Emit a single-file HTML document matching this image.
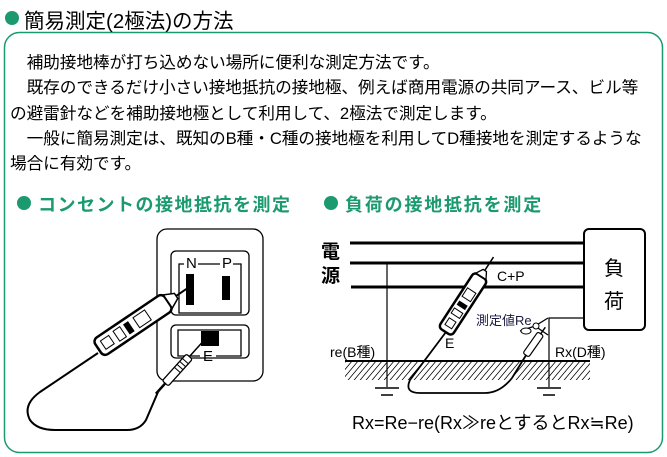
<!DOCTYPE html>
<html><head><meta charset="utf-8"><style>
body{margin:0;background:#fff;width:667px;height:457px;overflow:hidden;position:relative;font-family:"Liberation Sans","Noto Sans CJK JP",sans-serif;}
.t{position:absolute;white-space:nowrap;}
</style></head><body>
<svg width="667" height="457" style="position:absolute;left:0;top:0">
<defs>
<pattern id="h" width="6" height="20" patternUnits="userSpaceOnUse" patternTransform="skewX(-40)">
<line x1="1" y1="0" x2="1" y2="20" stroke="#000" stroke-width="1"/>
</pattern>
</defs>
<circle cx="12" cy="18" r="7" fill="#1a9a6e"/>
<rect x="4.5" y="32.5" width="658" height="420" rx="15" fill="none" stroke="#1a9a6e" stroke-width="1.5"/>
<circle cx="24" cy="203" r="7" fill="#1a9a6e"/>
<circle cx="331" cy="203" r="7" fill="#1a9a6e"/>

<rect x="157" y="229" width="106" height="152" rx="10" fill="none" stroke="#000" stroke-width="1.3"/>
<rect x="171" y="251" width="78" height="64" rx="5" fill="none" stroke="#000" stroke-width="1.3"/>
<path d="M184 264 H179 V313 H241 V264 H233 M198 264 H220" fill="none" stroke="#000" stroke-width="1.3"/>
<rect x="186" y="274" width="8" height="31" fill="#000"/>
<rect x="222" y="276" width="8" height="24" fill="#000"/>
<rect x="171" y="325" width="78" height="33" rx="5" fill="none" stroke="#000" stroke-width="1.3"/>
<path d="M200 356 H178 V330 H241 V356 H216" fill="none" stroke="#000" stroke-width="1.3"/>
<rect x="201" y="331" width="18" height="15" fill="#000"/>
<path d="M98 353 L40 392 Q22 405 30 420 Q37 430 55 430 L127 430 Q140 430 146 420 L158 392" fill="none" stroke="#000" stroke-width="2"/>
<g transform="translate(180,367) rotate(-48)">
<rect x="-22" y="-4" width="36" height="8" rx="2" fill="#fff" stroke="#000" stroke-width="1.3"/>
<path d="M-4 -4 V4 M0 -4 V4 M4 -4 V4 M8 -4 V4" stroke="#000"/>
<line x1="14" y1="0" x2="36" y2="0" stroke="#000" stroke-width="1.5"/>
<line x1="-22" y1="0" x2="-36" y2="0" stroke="#000" stroke-width="2.5"/>
</g>
<g transform="translate(133,325) rotate(-34)">
<rect x="-42" y="-10" width="84" height="20" rx="5" fill="#fff" stroke="#000" stroke-width="2.5"/>
<rect x="-36" y="-5" width="10" height="10" fill="none" stroke="#000"/>
<rect x="-20" y="-6" width="8" height="12" fill="none" stroke="#000"/>
<rect x="-8" y="-6" width="6" height="12" fill="#000"/>
<rect x="4" y="-6" width="14" height="12" fill="none" stroke="#000"/>
<path d="M42 -8 L52 -3 V3 L42 8 Z" fill="#fff" stroke="#000" stroke-width="1.5"/>
<line x1="52" y1="0" x2="70" y2="0" stroke="#000" stroke-width="2"/>
</g>

<line x1="350" y1="243" x2="584" y2="243" stroke="#000" stroke-width="3"/>
<line x1="350" y1="263" x2="584" y2="263" stroke="#000" stroke-width="3"/>
<line x1="351" y1="287" x2="584" y2="287" stroke="#000" stroke-width="3"/>
<rect x="584" y="229" width="61" height="101" rx="5" fill="#fff" stroke="#000" stroke-width="2"/>
<rect x="345" y="362" width="245" height="18" fill="url(#h)"/>
<line x1="345" y1="361" x2="590" y2="361" stroke="#000" stroke-width="2"/>
<line x1="387" y1="263" x2="387" y2="387" stroke="#000" stroke-width="1.2"/>
<path d="M549 387 V318 H584" fill="none" stroke="#000" stroke-width="1.2"/>
<path d="M375 388 H399 M381 395 H393" stroke="#000" stroke-width="1.5"/>
<path d="M537 388 H561 M543 395 H555" stroke="#000" stroke-width="1.5"/>
<path d="M446 332 L410 380 Q404 393 420 393 L485 393 Q500 393 512 378 L528 352" fill="none" stroke="#000" stroke-width="1.8"/>
<g transform="translate(463,304) rotate(-57)">
<rect x="-33" y="-8" width="66" height="16" rx="4" fill="#fff" stroke="#000" stroke-width="2.5"/>
<rect x="-27" y="-4" width="8" height="8" fill="none" stroke="#000"/>
<rect x="-14" y="-5" width="6" height="10" fill="none" stroke="#000"/>
<rect x="-4" y="-5" width="5" height="10" fill="#000"/>
<rect x="6" y="-5" width="10" height="10" fill="none" stroke="#000"/>
<path d="M33 -6 L40 -2 V2 L33 6Z" fill="#fff" stroke="#000" stroke-width="1.3"/>
<line x1="40" y1="0" x2="56" y2="0" stroke="#000" stroke-width="1.5"/>
</g>
<g transform="translate(535,342) rotate(-55)">
<rect x="-16" y="-3.5" width="26" height="7" rx="2" fill="#fff" stroke="#000" stroke-width="1.2"/>
<line x1="10" y1="0" x2="18" y2="0" stroke="#000" stroke-width="1.5"/>
</g>
<path d="M520 331 L535 326 L548 318 M535 326 L548 335" fill="none" stroke="#000" stroke-width="1.3"/>
<ellipse cx="526" cy="331" rx="5" ry="3" fill="#fff" stroke="#000"/>
<circle cx="536" cy="326" r="3" fill="#fff" stroke="#000"/>
</svg>

<div class="t" style="left:24px;top:4px;font-size:20.5px;">簡易測定(2極法)の方法</div>
<div class="t" style="left:10px;top:50px;font-size:16.7px;line-height:25.3px;letter-spacing:-0.1px;">
　補助接地棒が打ち込めない場所に便利な測定方法です。<br>
　既存のできるだけ小さい接地抵抗の接地極、例えば商用電源の共同アース、ビル等<br>
の避雷針などを補助接地極として利用して、2極法で測定します。<br>
　一般に簡易測定は、既知のB種・C種の接地極を利用してD種接地を測定するような<br>
場合に有効です。</div>
<div class="t" style="left:38px;top:191px;font-size:18px;letter-spacing:1.5px;color:#1a9a6e;font-weight:bold;">コンセントの接地抵抗を測定</div>
<div class="t" style="left:345px;top:191px;font-size:18px;letter-spacing:1.8px;color:#1a9a6e;font-weight:bold;">負荷の接地抵抗を測定</div>

<div class="t" style="left:186px;top:255px;font-size:15px;">N</div>
<div class="t" style="left:222px;top:255px;font-size:15px;">P</div>
<div class="t" style="left:203px;top:348px;font-size:15px;">E</div>

<div class="t" style="left:321px;top:241px;font-size:19px;font-weight:bold;line-height:24px;">電<br>源</div>
<div class="t" style="left:604px;top:253px;font-size:20px;line-height:33px;">負<br>荷</div>
<div class="t" style="left:497px;top:268px;font-size:14px;">C+P</div>
<div class="t" style="left:476px;top:310px;font-size:13px;color:#1a1a40;">測定値Re</div>
<div class="t" style="left:445px;top:335px;font-size:14px;">E</div>
<div class="t" style="left:330px;top:342px;font-size:14px;">re(B種)</div>
<div class="t" style="left:555px;top:342px;font-size:14px;">Rx(D種)</div>
<div class="t" style="left:352px;top:409px;font-size:18px;">Rx=Re−re(Rx≫reとするとRx≒Re)</div>
</body></html>
